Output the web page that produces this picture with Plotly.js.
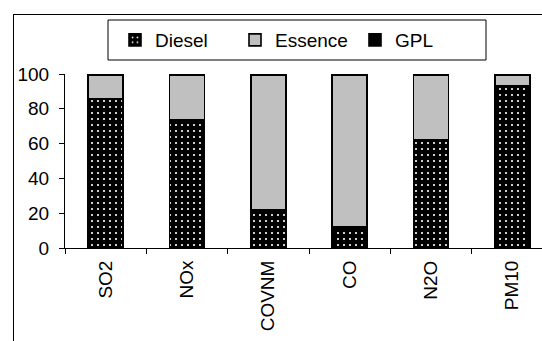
<!DOCTYPE html>
<html>
<head>
<meta charset="utf-8">
<script src="https://cdn.plot.ly/plotly-3.0.1.min.js"></script>
<style>
html, body { margin: 0; padding: 0; width: 542px; height: 341px; overflow: hidden; background: #fff; }
#frame { position: absolute; left: 13px; top: 14px; width: 700px; height: 500px; border: 1px solid #000; box-sizing: border-box; }
#chart { position: absolute; left: 0; top: 0; width: 600px; height: 400px; }
</style>
</head>
<body>
<div id="frame"></div>
<div id="chart"></div>
<script>
const categories = ["SO2", "NOx", "COVNM", "CO", "N2O", "PM10"];
const diesel  = [85.6, 73.6, 21.8, 11.9, 62.0, 93.3];
const essence = [13.6, 25.6, 77.4, 87.3, 37.2, 5.9];
const gpl     = [0.8, 0.8, 0.8, 0.8, 0.8, 0.8];
const seriesNames = ["Diesel", "Essence", "GPL"];

const font = { family: "Liberation Sans, Arial, sans-serif", size: 19, color: "#000" };
const outline = { color: "#000", width: 1.6 };

const traces = [
  { type: "bar", name: seriesNames[0], x: categories, y: diesel, legend: "legend",
    marker: { color: "#000", line: outline,
      pattern: { shape: ".", bgcolor: "#000", fgcolor: "#fff", size: 6, solidity: 0.1, fillmode: "replace" } } },
  { type: "bar", name: seriesNames[1], x: categories, y: essence, legend: "legend2",
    marker: { color: "#c0c0c0", line: outline } },
  { type: "bar", name: seriesNames[2], x: categories, y: gpl, legend: "legend3",
    marker: { color: "#000", line: outline } }
];

const L = 65, T = 74, W = 600, H = 400, PW = 488, PH = 174;
const px = v => (v - L) / PW;
const py = v => (T + PH - v) / PH;
const legendAt = xp => ({ orientation: "h", x: px(xp), xanchor: "left", y: py(40), yanchor: "middle",
  bgcolor: "rgba(0,0,0,0)", borderwidth: 0, font: font });

const layout = {
  width: W, height: H,
  margin: { l: L, r: W - L - PW, t: T, b: H - T - PH, pad: 0 },
  paper_bgcolor: "rgba(0,0,0,0)", plot_bgcolor: "rgba(0,0,0,0)",
  font: font,
  barmode: "stack", bargap: 0.57,
  showlegend: true,
  legend: legendAt(115),
  legend2: legendAt(235),
  legend3: legendAt(355),
  xaxis: { type: "category", showline: true, linecolor: "#000", linewidth: 1,
    ticks: "outside", tickson: "boundaries", ticklen: 5, tickcolor: "#000", tickwidth: 1,
    tickangle: -90, tickfont: font, showgrid: false, zeroline: false, ticklabelstandoff: 4 },
  yaxis: { range: [0, 100], tickvals: [0, 20, 40, 60, 80, 100], showline: true, linecolor: "#000", linewidth: 1,
    ticks: "outside", ticklen: 5, tickcolor: "#000", tickwidth: 1, tickfont: font,
    showgrid: false, zeroline: false, ticklabelstandoff: 6 },
  shapes: [
    { type: "rect", xref: "paper", yref: "paper", x0: px(108), x1: px(486), y0: py(60), y1: py(20),
      line: { color: "#000", width: 1 }, fillcolor: "rgba(0,0,0,0)" }
  ]
};

Plotly.newPlot("chart", traces, layout, { staticPlot: true, displayModeBar: false });
</script>
</body>
</html>
